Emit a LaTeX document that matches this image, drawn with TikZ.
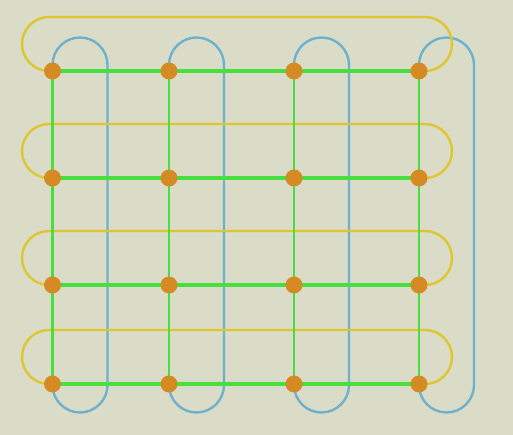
\documentclass[tikz,border=0pt]{standalone}
\definecolor{paper}{RGB}{218,220,200}
\definecolor{dotorange}{RGB}{214,138,36}
\definecolor{meshgreen}{RGB}{72,222,62}
\definecolor{wrapyellow}{RGB}{222,198,48}
\definecolor{wrapblue}{RGB}{108,178,206}
\begin{document}
\begin{tikzpicture}[x=1pt,y=1pt,
  dot/.style={circle,fill=dotorange,inner sep=0pt,minimum size=17pt},
  rowline/.style={line width=3.2pt,meshgreen},
  colline/.style={line width=2.6pt,meshgreen},
  wrapy/.style={line width=2.4pt,wrapyellow},
  wrapx/.style={line width=2.4pt,wrapblue}]
\fill[paper] (0,0) rectangle (513,435);
\useasboundingbox (0,0) rectangle (513,435);
% grid points, row r column c
\coordinate (r1c1) at (52.5,364);
\coordinate (r1c2) at (169,364);
\coordinate (r1c3) at (294,364);
\coordinate (r1c4) at (419,364);
\coordinate (r2c1) at (52.5,257);
\coordinate (r2c2) at (169,257);
\coordinate (r2c3) at (294,257);
\coordinate (r2c4) at (419,257);
\coordinate (r3c1) at (52.5,150);
\coordinate (r3c2) at (169,150);
\coordinate (r3c3) at (294,150);
\coordinate (r3c4) at (419,150);
\coordinate (r4c1) at (52.5,51);
\coordinate (r4c2) at (169,51);
\coordinate (r4c3) at (294,51);
\coordinate (r4c4) at (419,51);
% column wrap-around
\foreach \c in {1,...,4}
  \draw[wrapx] (r1c\c) ++(0,6) arc[start angle=180,end angle=0,radius=27.5]
    --++(0,-320) arc[start angle=0,end angle=-180,radius=27.5] -- (r4c\c);
% row wrap-around
\foreach \r in {1,...,4}
  \draw[wrapy] (r\r c1) ++(-3.5,0) arc[start angle=-90,end angle=-270,radius=27]
    --++(376,0) arc[start angle=90,end angle=-90,radius=27] -- (r\r c4);
% mesh
\foreach \r in {1,...,4}
  \draw[rowline] (r\r c1) -- (r\r c2) -- (r\r c3) -- (r\r c4);
\foreach \c in {1,...,4}
  \draw[colline] (r1c\c) -- (r2c\c) -- (r3c\c) -- (r4c\c);
% processors
\foreach \r in {1,...,4}
  \foreach \c in {1,...,4}
    \node[dot] (p\r\c) at (r\r c\c) {};
\end{tikzpicture}
\end{document}
